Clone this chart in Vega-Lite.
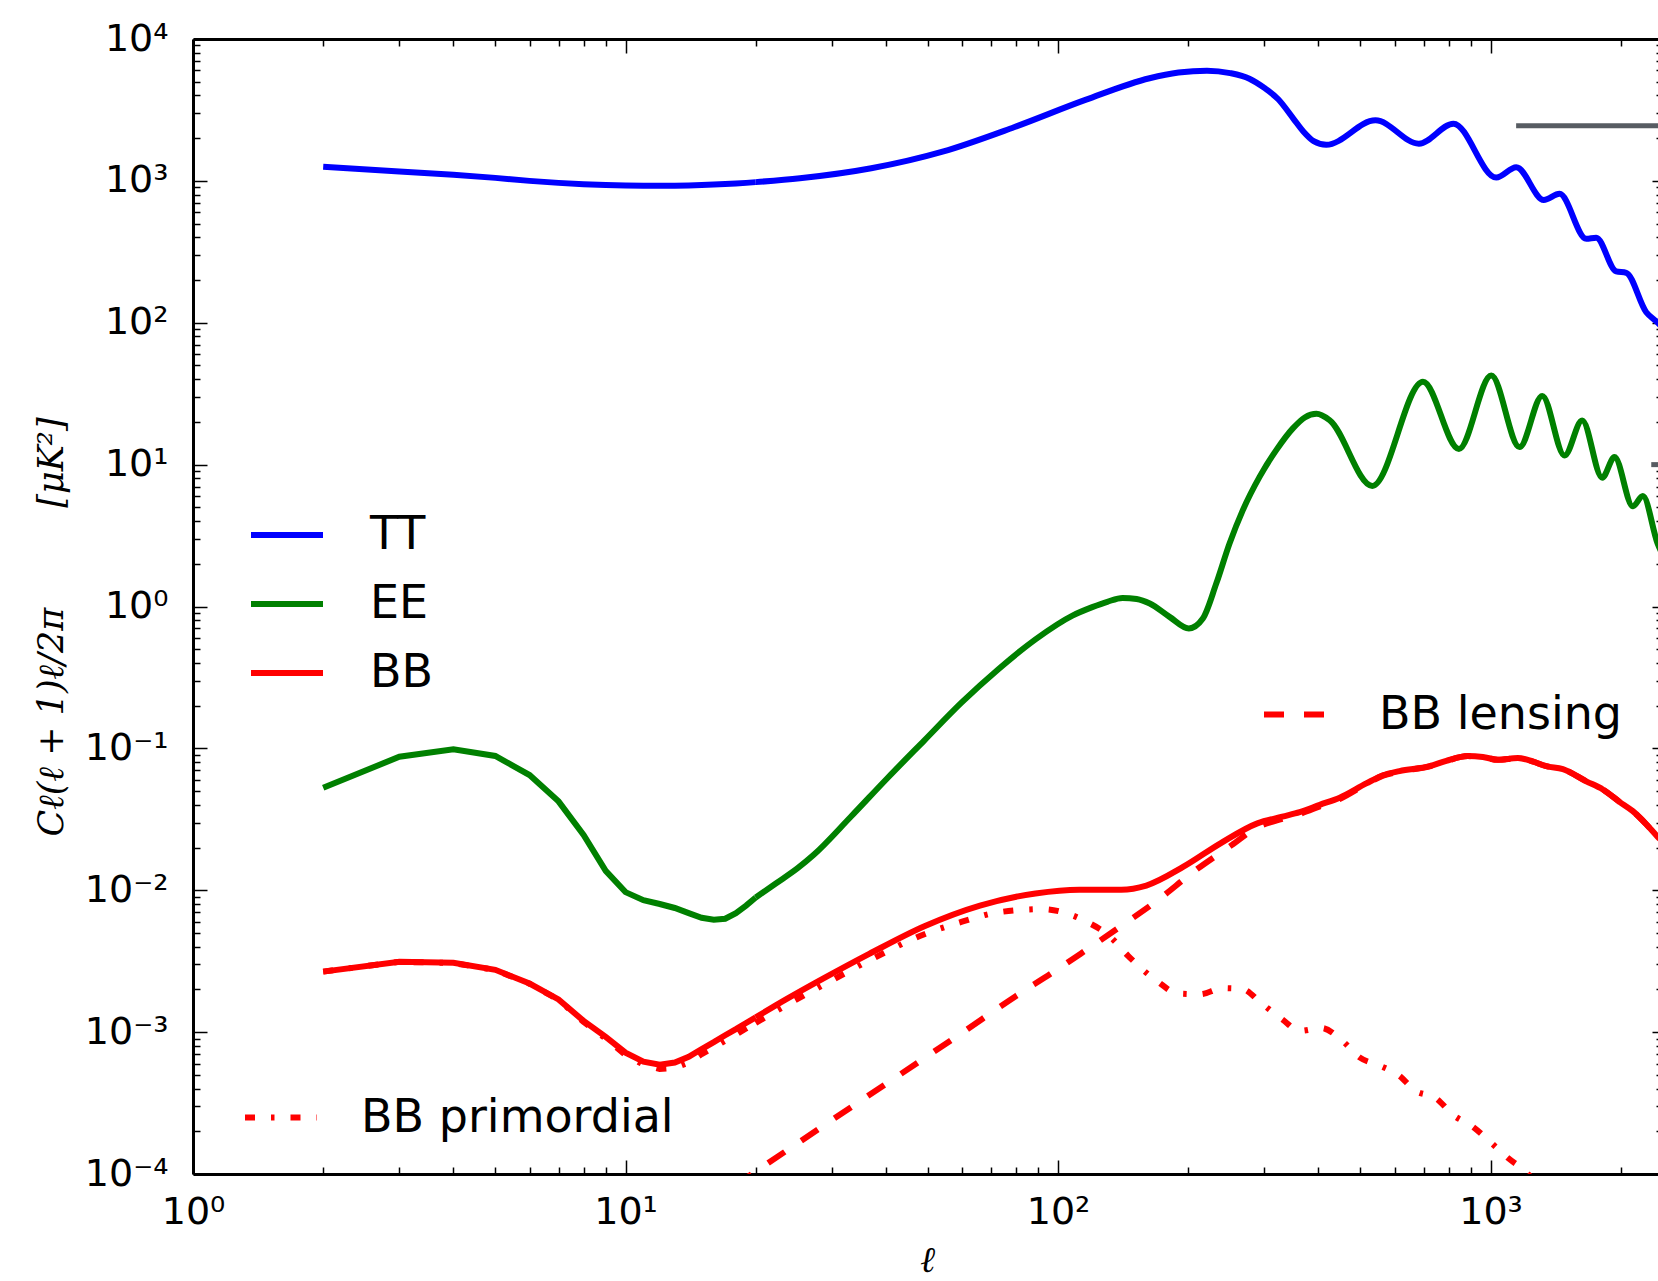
{
  "$schema": "https://vega.github.io/schema/vega-lite/v6.json",
  "width": 1465,
  "height": 1135,
  "autosize": {"type": "none"},
  "padding": {"left": 193, "top": 39, "right": 0, "bottom": 107},
  "background": "white",
  "config": {
    "view": {"stroke": null},
    "axis": {
      "grid": false,
      "domainColor": "black",
      "domainWidth": 3,
      "tickColor": "black",
      "tickWidth": 1.5,
      "labelFont": "DejaVu Sans",
      "labelFontSize": 38,
      "labelColor": "black",
      "labelOverlap": false,
      "labelFlush": false,
      "labelBound": false,
      "titleColor": "black"
    },
    "legend": {
      "title": null,
      "orient": "none",
      "symbolType": "stroke",
      "symbolSize": 5184,
      "symbolStrokeWidth": 6,
      "labelFont": "DejaVu Sans",
      "labelFontSize": 46,
      "labelColor": "black",
      "labelOffset": 44,
      "labelLimit": 0,
      "clipHeight": 69,
      "rowPadding": 0
    }
  },
  "datasets": {
    "mainLow": [
      {"s":"TT","l":2,"c":1259},{"s":"TT","l":3,"c":1165},{"s":"TT","l":4,"c":1105},{"s":"TT","l":5,"c":1050},{"s":"TT","l":6,"c":1000},{"s":"TT","l":7,"c":968},{"s":"TT","l":8,"c":948},{"s":"TT","l":9,"c":935},{"s":"TT","l":10,"c":928},{"s":"TT","l":11,"c":925},{"s":"TT","l":12,"c":924},{"s":"TT","l":13,"c":925},{"s":"TT","l":14,"c":929},{"s":"TT","l":15,"c":935},{"s":"TT","l":16,"c":942},{"s":"TT","l":17,"c":949},{"s":"TT","l":18,"c":957},{"s":"TT","l":19,"c":968},{"s":"TT","l":20,"c":980},
      {"s":"EE","l":2,"c":0.0528},{"s":"EE","l":3,"c":0.0873},{"s":"EE","l":4,"c":0.0986},{"s":"EE","l":5,"c":0.0884},{"s":"EE","l":6,"c":0.0649},{"s":"EE","l":7,"c":0.0423},{"s":"EE","l":8,"c":0.0245},{"s":"EE","l":9,"c":0.0137},{"s":"EE","l":10,"c":0.0097},{"s":"EE","l":11,"c":0.0085},{"s":"EE","l":12,"c":0.008},{"s":"EE","l":13,"c":0.0075},{"s":"EE","l":14,"c":0.0069},{"s":"EE","l":15,"c":0.0064},{"s":"EE","l":16,"c":0.0062},{"s":"EE","l":17,"c":0.0063},{"s":"EE","l":18,"c":0.0069},{"s":"EE","l":19,"c":0.0078},{"s":"EE","l":20,"c":0.0089},
      {"s":"BB","l":2,"c":0.00267},{"s":"BB","l":3,"c":0.00313},{"s":"BB","l":4,"c":0.00308},{"s":"BB","l":5,"c":0.00275},{"s":"BB","l":6,"c":0.0022},{"s":"BB","l":7,"c":0.0017},{"s":"BB","l":8,"c":0.0012},{"s":"BB","l":9,"c":0.000925},{"s":"BB","l":10,"c":0.000716},{"s":"BB","l":11,"c":0.00062},{"s":"BB","l":12,"c":0.00059},{"s":"BB","l":13,"c":0.00061},{"s":"BB","l":14,"c":0.00067},{"s":"BB","l":15,"c":0.00076},{"s":"BB","l":16,"c":0.00085},{"s":"BB","l":17,"c":0.00095},{"s":"BB","l":18,"c":0.00105},{"s":"BB","l":19,"c":0.00116},{"s":"BB","l":20,"c":0.00127}
    ],
    "main": [
      {"s":"TT","l":20,"c":980},{"s":"TT","l":25.3,"c":1043},{"s":"TT","l":37,"c":1227},{"s":"TT","l":54.1,"c":1607},{"s":"TT","l":79.1,"c":2388},{"s":"TT","l":115.7,"c":3720},{"s":"TT","l":162.8,"c":5290},{"s":"TT","l":190,"c":5800},{"s":"TT","l":221,"c":5985},{"s":"TT","l":250,"c":5750},{"s":"TT","l":277,"c":5250},{"s":"TT","l":300,"c":4520},{"s":"TT","l":323,"c":3760},{"s":"TT","l":350,"c":2750},{"s":"TT","l":370,"c":2210},{"s":"TT","l":390,"c":1905},{"s":"TT","l":417,"c":1795},{"s":"TT","l":542,"c":2672},{"s":"TT","l":683,"c":1829},{"s":"TT","l":821,"c":2531},{"s":"TT","l":1031,"c":1055},{"s":"TT","l":1147,"c":1247},{"s":"TT","l":1328,"c":733},{"s":"TT","l":1444,"c":810},{"s":"TT","l":1665,"c":391},{"s":"TT","l":1755,"c":398},{"s":"TT","l":1952,"c":230},{"s":"TT","l":2060,"c":225},{"s":"TT","l":2291,"c":118.6},{"s":"TT","l":2432,"c":100.5},{"s":"TT","l":2500,"c":92},
      {"s":"EE","l":20,"c":0.0089},{"s":"EE","l":22.3,"c":0.0112},{"s":"EE","l":25,"c":0.0143},{"s":"EE","l":27.2,"c":0.0177},{"s":"EE","l":33.1,"c":0.0327},{"s":"EE","l":40.4,"c":0.0621},{"s":"EE","l":49.1,"c":0.114},{"s":"EE","l":59.8,"c":0.21},{"s":"EE","l":72.9,"c":0.363},{"s":"EE","l":88.7,"c":0.587},{"s":"EE","l":108,"c":0.863},{"s":"EE","l":120,"c":0.99},{"s":"EE","l":130,"c":1.08},{"s":"EE","l":141,"c":1.15},{"s":"EE","l":152,"c":1.13},{"s":"EE","l":163,"c":1.05},{"s":"EE","l":181.1,"c":0.845},{"s":"EE","l":200.7,"c":0.7},{"s":"EE","l":216.2,"c":0.822},{"s":"EE","l":232.2,"c":1.45},{"s":"EE","l":249.2,"c":2.78},{"s":"EE","l":267.5,"c":4.78},{"s":"EE","l":292.4,"c":8.2},{"s":"EE","l":319.6,"c":12.65},{"s":"EE","l":349.1,"c":18},{"s":"EE","l":372,"c":21.5},{"s":"EE","l":396,"c":22.8},{"s":"EE","l":424.4,"c":20.6},{"s":"EE","l":533,"c":7.08},{"s":"EE","l":698,"c":38.4},{"s":"EE","l":845,"c":12.9},{"s":"EE","l":1004,"c":42.4},{"s":"EE","l":1167,"c":13.3},{"s":"EE","l":1317,"c":30.5},{"s":"EE","l":1483,"c":11.6},{"s":"EE","l":1629,"c":20.5},{"s":"EE","l":1812,"c":8.09},{"s":"EE","l":1935,"c":11.3},{"s":"EE","l":2133,"c":5.09},{"s":"EE","l":2250,"c":6.01},{"s":"EE","l":2432,"c":2.8},{"s":"EE","l":2500,"c":2.3},
      {"s":"BB","l":20,"c":0.00127},{"s":"BB","l":22.3,"c":0.00155},{"s":"BB","l":28.9,"c":0.00242},{"s":"BB","l":36.6,"c":0.00356},{"s":"BB","l":49.1,"c":0.00558},{"s":"BB","l":66,"c":0.0078},{"s":"BB","l":88.7,"c":0.0095},{"s":"BB","l":112,"c":0.0101},{"s":"BB","l":140,"c":0.0101},{"s":"BB","l":160,"c":0.0108},{"s":"BB","l":195,"c":0.01465},{"s":"BB","l":238,"c":0.0215},{"s":"BB","l":289,"c":0.0296},{"s":"BB","l":330,"c":0.033},{"s":"BB","l":362,"c":0.0355},{"s":"BB","l":403,"c":0.04},{"s":"BB","l":448,"c":0.0449},{"s":"BB","l":516,"c":0.0566},{"s":"BB","l":564,"c":0.0647},{"s":"BB","l":616,"c":0.0692},{"s":"BB","l":723,"c":0.0749},{"s":"BB","l":790,"c":0.0817},{"s":"BB","l":886,"c":0.0884},{"s":"BB","l":960,"c":0.087},{"s":"BB","l":1040,"c":0.0832},{"s":"BB","l":1157,"c":0.0855},{"s":"BB","l":1250,"c":0.081},{"s":"BB","l":1345,"c":0.0749},{"s":"BB","l":1470,"c":0.0714},{"s":"BB","l":1665,"c":0.0586},{"s":"BB","l":1818,"c":0.0513},{"s":"BB","l":1987,"c":0.042},{"s":"BB","l":2133,"c":0.0361},{"s":"BB","l":2291,"c":0.0292},{"s":"BB","l":2432,"c":0.0239},{"s":"BB","l":2500,"c":0.022}
    ],
    "lens": [
      {"s":"BB lensing","l":15,"c":0.000058},{"s":"BB lensing","l":19.65,"c":0.0001005},{"s":"BB lensing","l":30,"c":0.00024},{"s":"BB lensing","l":40.4,"c":0.00044},{"s":"BB lensing","l":60,"c":0.00099},{"s":"BB lensing","l":80,"c":0.0018},{"s":"BB lensing","l":97.9,"c":0.00267},{"s":"BB lensing","l":114.5,"c":0.00368},{"s":"BB lensing","l":140,"c":0.0056},{"s":"BB lensing","l":170,"c":0.0085},{"s":"BB lensing","l":207,"c":0.0137},{"s":"BB lensing","l":252,"c":0.0208},{"s":"BB lensing","l":289,"c":0.0278},{"s":"BB lensing","l":330,"c":0.0318},{"s":"BB lensing","l":362,"c":0.0345},{"s":"BB lensing","l":403,"c":0.039},{"s":"BB lensing","l":448,"c":0.044},{"s":"BB lensing","l":516,"c":0.056},{"s":"BB lensing","l":564,"c":0.0642},{"s":"BB lensing","l":616,"c":0.0687},{"s":"BB lensing","l":723,"c":0.0746},{"s":"BB lensing","l":790,"c":0.0814},{"s":"BB lensing","l":886,"c":0.0882},{"s":"BB lensing","l":960,"c":0.0868},{"s":"BB lensing","l":1040,"c":0.083},{"s":"BB lensing","l":1157,"c":0.0854},{"s":"BB lensing","l":1250,"c":0.081},{"s":"BB lensing","l":1345,"c":0.0749},{"s":"BB lensing","l":1470,"c":0.0714},{"s":"BB lensing","l":1665,"c":0.0586},{"s":"BB lensing","l":1818,"c":0.0513},{"s":"BB lensing","l":1987,"c":0.042},{"s":"BB lensing","l":2133,"c":0.0361},{"s":"BB lensing","l":2291,"c":0.0292},{"s":"BB lensing","l":2432,"c":0.0239},{"s":"BB lensing","l":2500,"c":0.022}
    ],
    "primLow": [
      {"s":"BB primordial","l":2,"c":0.00267},{"s":"BB primordial","l":3,"c":0.00313},{"s":"BB primordial","l":4,"c":0.00307},{"s":"BB primordial","l":5,"c":0.00274},{"s":"BB primordial","l":6,"c":0.00219},{"s":"BB primordial","l":7,"c":0.00169},{"s":"BB primordial","l":8,"c":0.00118},{"s":"BB primordial","l":9,"c":0.0009},{"s":"BB primordial","l":10,"c":0.00069},{"s":"BB primordial","l":11,"c":0.00059},{"s":"BB primordial","l":12,"c":0.00055},{"s":"BB primordial","l":13,"c":0.00056},{"s":"BB primordial","l":14,"c":0.00061},{"s":"BB primordial","l":15,"c":0.0007},{"s":"BB primordial","l":16,"c":0.00078},{"s":"BB primordial","l":17,"c":0.00087},{"s":"BB primordial","l":18,"c":0.00096},{"s":"BB primordial","l":19,"c":0.00106},{"s":"BB primordial","l":20,"c":0.00116}
    ],
    "prim": [
      {"s":"BB primordial","l":20,"c":0.00116},{"s":"BB primordial","l":22.3,"c":0.00141},{"s":"BB primordial","l":28.9,"c":0.00218},{"s":"BB primordial","l":36.6,"c":0.0032},{"s":"BB primordial","l":49.1,"c":0.0049},{"s":"BB primordial","l":60,"c":0.006},{"s":"BB primordial","l":72.9,"c":0.007},{"s":"BB primordial","l":92.3,"c":0.00736},{"s":"BB primordial","l":104.9,"c":0.00686},{"s":"BB primordial","l":116.9,"c":0.00596},{"s":"BB primordial","l":131.5,"c":0.00476},{"s":"BB primordial","l":145.2,"c":0.00345},{"s":"BB primordial","l":169.8,"c":0.00228},{"s":"BB primordial","l":189.3,"c":0.00187},{"s":"BB primordial","l":213,"c":0.00185},{"s":"BB primordial","l":240,"c":0.00204},{"s":"BB primordial","l":267,"c":0.00201},{"s":"BB primordial","l":295,"c":0.0016},{"s":"BB primordial","l":329,"c":0.00124},{"s":"BB primordial","l":363,"c":0.00102},{"s":"BB primordial","l":406,"c":0.00107},{"s":"BB primordial","l":455,"c":0.000865},{"s":"BB primordial","l":498,"c":0.000664},{"s":"BB primordial","l":554,"c":0.000581},{"s":"BB primordial","l":616,"c":0.000492},{"s":"BB primordial","l":667,"c":0.00039},{"s":"BB primordial","l":749,"c":0.000341},{"s":"BB primordial","l":818,"c":0.000262},{"s":"BB primordial","l":910,"c":0.000215},{"s":"BB primordial","l":995,"c":0.00017},{"s":"BB primordial","l":1096,"c":0.00013},{"s":"BB primordial","l":1209,"c":0.000103},{"s":"BB primordial","l":1300,"c":0.00008}
    ],
    "gray": [
      {"g":"a","l":1146,"c":2450},{"g":"a","l":2600,"c":2450},
      {"g":"b","l":2353,"c":10},{"g":"b","l":2600,"c":10}
    ]
  },
  "layer": [
    {
      "data": {"name": "main"},
      "mark": {"type": "line", "strokeWidth": 6, "clip": true, "interpolate": "monotone"},
      "encoding": {
        "x": {
          "field": "l", "type": "quantitative",
          "scale": {"type": "log", "domain": [1, 2439], "nice": false},
          "axis": {
            "orient": "bottom",
            "values": [1,2,3,4,5,6,7,8,9,10,20,30,40,50,60,70,80,90,100,200,300,400,500,600,700,800,900,1000,2000],
            "labelExpr": "abs(log(datum.value)/LN10 - round(log(datum.value)/LN10)) < 0.001 ? ['10⁰','10¹','10²','10³','10⁴'][round(log(datum.value)/LN10)] : ''",
            "tickSize": {"condition": {"test": "abs(log(datum.value)/LN10 - round(log(datum.value)/LN10)) < 0.001", "value": -14}, "value": -7},
            "labelPadding": 33,
            "title": "ℓ",
            "titleFont": "DejaVu Serif",
            "titleFontStyle": "italic",
            "titleFontWeight": "normal",
            "titleFontSize": 36,
            "titleX": 734,
            "titleY": 86,
            "titleBaseline": "middle",
            "titleAlign": "center"
          }
        },
        "y": {
          "field": "c", "type": "quantitative",
          "scale": {"type": "log", "domain": [0.0001, 10000], "nice": false},
          "axis": {
            "orient": "left",
            "values": [0.0001,0.0002,0.0003,0.0004,0.0005,0.0006,0.0007,0.0008,0.0009,0.001,0.002,0.003,0.004,0.005,0.006,0.007,0.008,0.009,0.01,0.02,0.03,0.04,0.05,0.06,0.07,0.08,0.09,0.1,0.2,0.3,0.4,0.5,0.6,0.7,0.8,0.9,1,2,3,4,5,6,7,8,9,10,20,30,40,50,60,70,80,90,100,200,300,400,500,600,700,800,900,1000,2000,3000,4000,5000,6000,7000,8000,9000,10000],
            "labelExpr": "abs(log(datum.value)/LN10 - round(log(datum.value)/LN10)) < 0.001 ? ['10⁻⁴','10⁻³','10⁻²','10⁻¹','10⁰','10¹','10²','10³','10⁴'][round(log(datum.value)/LN10)+4] : ''",
            "tickSize": {"condition": {"test": "abs(log(datum.value)/LN10 - round(log(datum.value)/LN10)) < 0.001", "value": -14}, "value": -7},
            "labelPadding": 39,
            "title": "Cℓ(ℓ + 1)ℓ/2π\u00a0\u00a0\u00a0\u00a0\u00a0\u00a0\u00a0\u00a0\u00a0[μK²]",
            "titleFont": "DejaVu Serif",
            "titleFontStyle": "italic",
            "titleFontWeight": "normal",
            "titleFontSize": 35,
            "titleAngle": 270,
            "titleX": -142,
            "titleY": 587.5,
            "titleBaseline": "middle",
            "titleAlign": "center"
          }
        },
        "color": {
          "field": "s", "type": "nominal",
          "scale": {"domain": ["TT","EE","BB"], "range": ["#0000ff","#008000","#ff0000"]},
          "legend": {"legendX": 55, "legendY": 461.5}
        }
      }
    },
    {
      "data": {"name": "mainLow"},
      "mark": {"type": "line", "strokeWidth": 6, "clip": true, "interpolate": "linear"},
      "encoding": {
        "x": {"field": "l", "type": "quantitative", "scale": {"type": "log", "domain": [1, 2439], "nice": false}, "axis": null},
        "y": {"field": "c", "type": "quantitative", "scale": {"type": "log", "domain": [0.0001, 10000], "nice": false}, "axis": null},
        "color": {
          "field": "s", "type": "nominal",
          "scale": {"domain": ["TT","EE","BB"], "range": ["#0000ff","#008000","#ff0000"]},
          "legend": null
        }
      }
    },
    {
      "data": {"name": "lens"},
      "mark": {"type": "line", "strokeWidth": 6, "strokeDash": [20, 20], "clip": true, "interpolate": "monotone"},
      "encoding": {
        "x": {
          "field": "l", "type": "quantitative",
          "scale": {"type": "log", "domain": [1, 2439], "nice": false},
          "axis": {
            "orient": "top",
            "values": [1,2,3,4,5,6,7,8,9,10,20,30,40,50,60,70,80,90,100,200,300,400,500,600,700,800,900,1000,2000],
            "labels": false,
            "title": null,
            "tickSize": {"condition": {"test": "abs(log(datum.value)/LN10 - round(log(datum.value)/LN10)) < 0.001", "value": -14}, "value": -7}
          }
        },
        "y": {
          "field": "c", "type": "quantitative",
          "scale": {"type": "log", "domain": [0.0001, 10000], "nice": false},
          "axis": {
            "orient": "right",
            "values": [0.0001,0.0002,0.0003,0.0004,0.0005,0.0006,0.0007,0.0008,0.0009,0.001,0.002,0.003,0.004,0.005,0.006,0.007,0.008,0.009,0.01,0.02,0.03,0.04,0.05,0.06,0.07,0.08,0.09,0.1,0.2,0.3,0.4,0.5,0.6,0.7,0.8,0.9,1,2,3,4,5,6,7,8,9,10,20,30,40,50,60,70,80,90,100,200,300,400,500,600,700,800,900,1000,2000,3000,4000,5000,6000,7000,8000,9000,10000],
            "labels": false,
            "domain": false,
            "title": null,
            "tickSize": {"condition": {"test": "abs(log(datum.value)/LN10 - round(log(datum.value)/LN10)) < 0.001", "value": -6}, "value": -2}
          }
        },
        "color": {
          "field": "s", "type": "nominal",
          "scale": {"domain": ["BB lensing"], "range": ["#ff0000"]},
          "legend": {"legendX": 1068, "legendY": 641, "symbolDash": [20, 20], "labelOffset": 40}
        }
      }
    },
    {
      "data": {"name": "prim"},
      "mark": {"type": "line", "strokeWidth": 6, "strokeDash": [10, 16, 3.5, 16], "clip": true, "interpolate": "monotone"},
      "encoding": {
        "x": {"field": "l", "type": "quantitative", "scale": {"type": "log", "domain": [1, 2439], "nice": false}, "axis": null},
        "y": {"field": "c", "type": "quantitative", "scale": {"type": "log", "domain": [0.0001, 10000], "nice": false}, "axis": null},
        "color": {
          "field": "s", "type": "nominal",
          "scale": {"domain": ["BB primordial"], "range": ["#ff0000"]},
          "legend": {"legendX": 49, "legendY": 1044, "symbolDash": [10, 16, 3.5, 16], "labelOffset": 41}
        }
      }
    },
    {
      "data": {"name": "primLow"},
      "mark": {"type": "line", "strokeWidth": 6, "strokeDash": [10, 16, 3.5, 16], "clip": true, "interpolate": "linear"},
      "encoding": {
        "x": {"field": "l", "type": "quantitative", "scale": {"type": "log", "domain": [1, 2439], "nice": false}, "axis": null},
        "y": {"field": "c", "type": "quantitative", "scale": {"type": "log", "domain": [0.0001, 10000], "nice": false}, "axis": null},
        "color": {
          "field": "s", "type": "nominal",
          "scale": {"domain": ["BB primordial"], "range": ["#ff0000"]},
          "legend": null
        }
      }
    },
    {
      "data": {"name": "gray"},
      "mark": {"type": "line", "strokeWidth": 5, "color": "#575c62", "clip": true},
      "encoding": {
        "x": {"field": "l", "type": "quantitative", "scale": {"type": "log", "domain": [1, 2439], "nice": false}, "axis": null},
        "y": {"field": "c", "type": "quantitative", "scale": {"type": "log", "domain": [0.0001, 10000], "nice": false}, "axis": null},
        "detail": {"field": "g", "type": "nominal"}
      }
    }
  ],
  "resolve": {
    "scale": {"color": "independent"},
    "axis": {"x": "independent", "y": "independent"},
    "legend": {"color": "independent"}
  }
}
